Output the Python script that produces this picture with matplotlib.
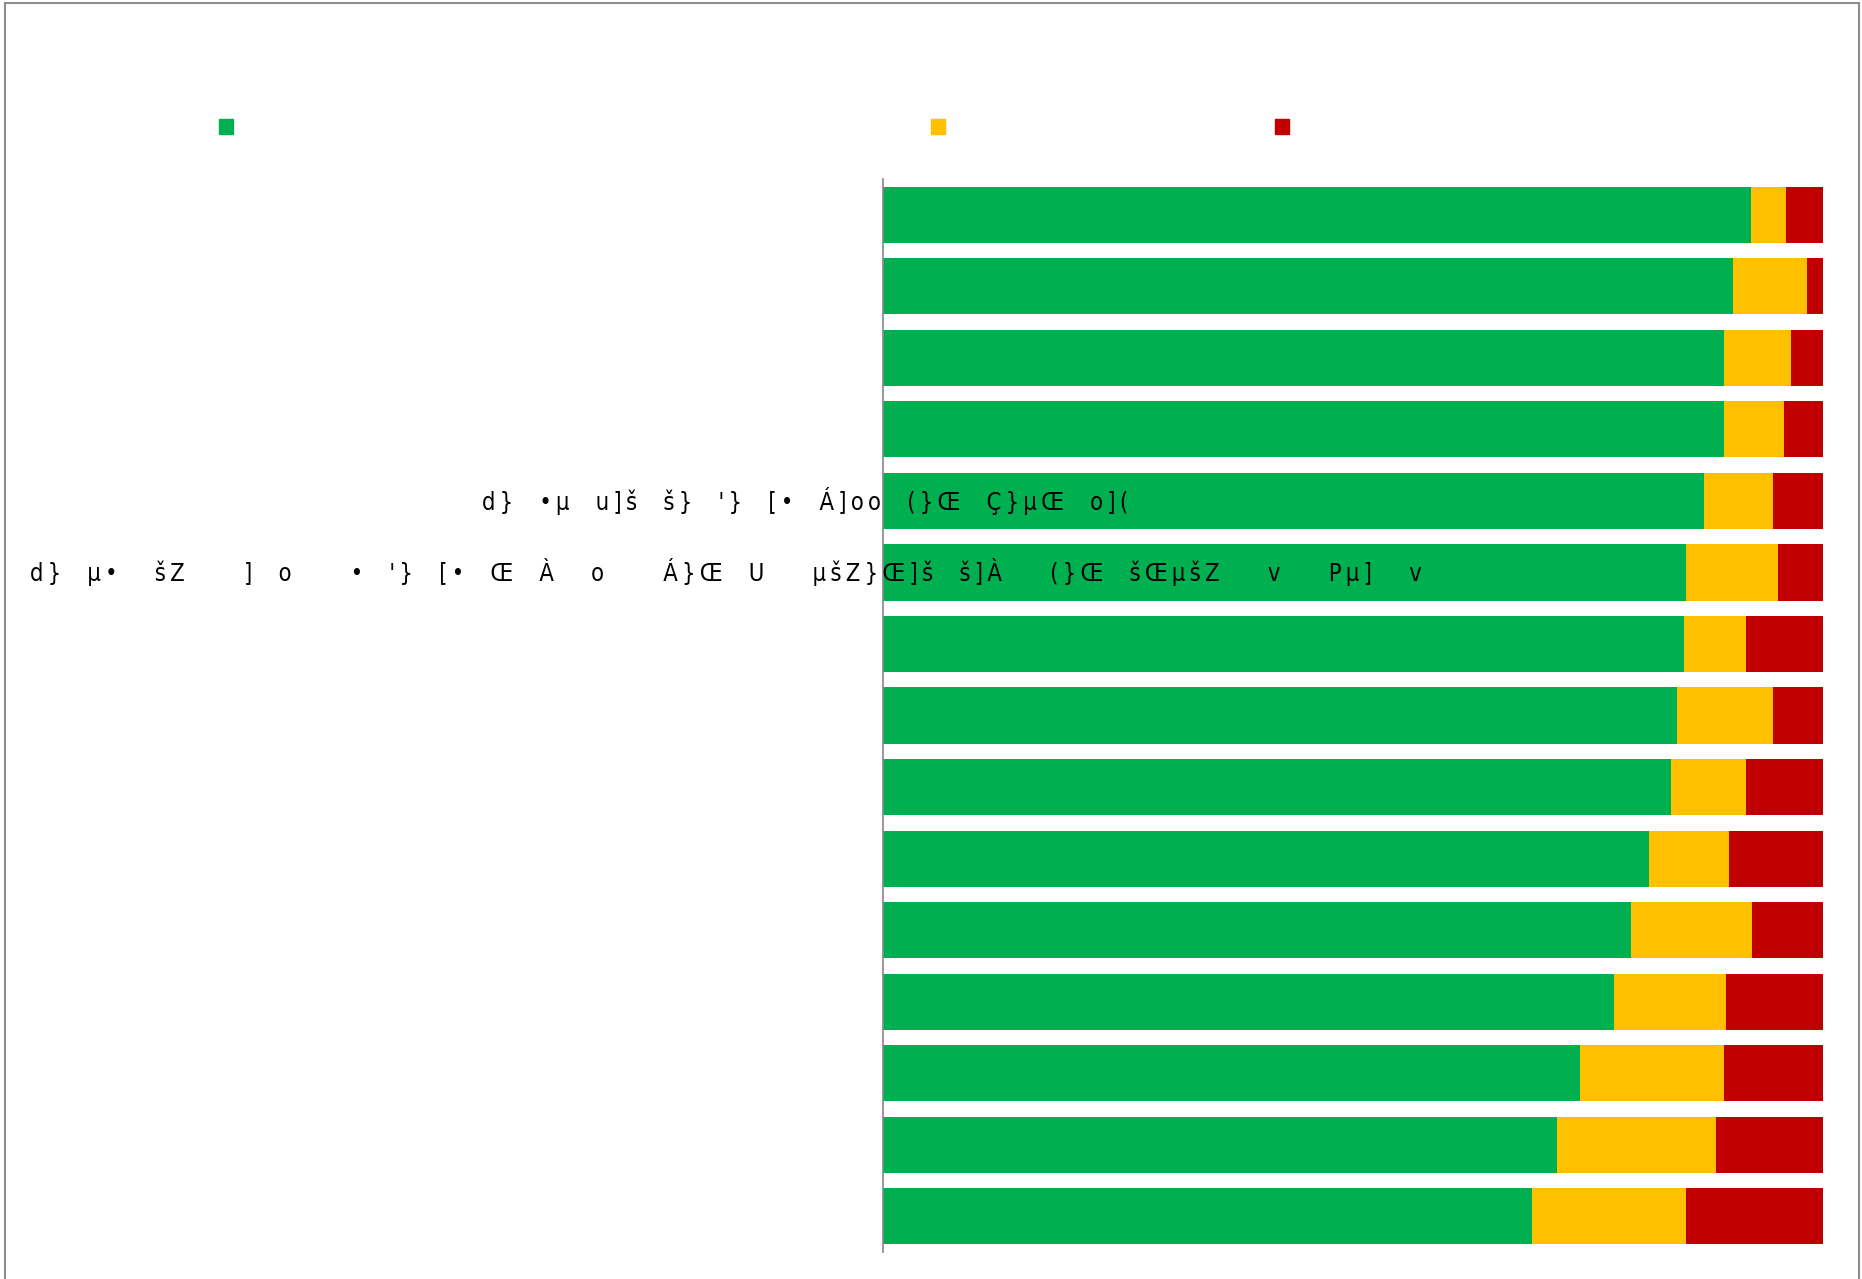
import numpy as np
import matplotlib.pyplot as plt
from matplotlib.patches import Rectangle
from matplotlib.transforms import blended_transform_factory

# row labels (only two survived in the source, the rest render empty)
labels = ["", "", "", "",
          "d}  •µ  u]š  š}  '}  [•  Á]oo  (}Œ  Ç}µŒ  o](",
          "d}  µ•   šZ     ]  o     •  '}  [•  Œ  À   o     Á}Œ  U    µšZ}Œ]š  š]À    (}Œ  šŒµšZ    v    Pµ]   v",
          "", "", "", "", "", "", "", "", ""]

# shares in percent, top row first
green = [92.3, 90.4, 89.4, 89.4, 87.3, 85.4, 85.2, 84.4, 83.8, 81.5, 79.6, 77.8, 74.1, 71.7, 69.0]
yellow = [3.7, 7.9, 7.2, 6.4, 7.4, 9.8, 6.6, 10.3, 8.0, 8.5, 12.8, 11.9, 15.3, 16.9, 16.4]
red = [4.0, 1.7, 3.4, 4.2, 5.3, 4.8, 8.2, 5.3, 8.2, 10.0, 7.6, 10.3, 10.6, 11.4, 14.6]

colors = ["#00B050", "#FFC000", "#C00000"]


def plot_stacked():
    fig = plt.figure(figsize=(18.62, 12.79), dpi=100)
    ax = fig.add_axes([0.474, 0.0211, 0.5052, 0.8389])

    y = np.arange(len(green))
    left = np.zeros(len(green))
    for vals, c in zip([green, yellow, red], colors):
        ax.barh(y, vals, left=left, height=0.785, color=c, edgecolor="none")
        left += np.array(vals)

    ax.set_xlim(0, 100)
    ax.set_ylim(len(green) - 0.5, -0.5)
    ax.set_xticks([])
    ax.set_yticks([])
    for s in ["top", "right", "bottom"]:
        ax.spines[s].set_visible(False)
    ax.spines["left"].set_color("#868686")
    ax.spines["left"].set_linewidth(1.2)

    # labels sit where the broken font put them, glyphs spread out
    trans = blended_transform_factory(fig.transFigure, ax.transData)
    xpos = {4: 0.259, 5: 0.016}
    for i, lab in enumerate(labels):
        if lab:
            ax.text(xpos[i], i, "\u2009".join(lab), transform=trans, ha="left",
                    va="center", fontsize=17, fontstretch="condensed",
                    color="black", clip_on=False, family="DejaVu Sans")

    # legend keys without text
    for xk, c in zip([0.1215, 0.5035, 0.6885], colors):
        fig.patches.append(Rectangle((xk - 0.0037, 0.8953), 0.0075, 0.0117,
                                     transform=fig.transFigure, color=c))

    fig.patches.append(Rectangle((0.0027, -0.01), 0.9958, 1.0077,
                                 transform=fig.transFigure, fill=False,
                                 edgecolor="#8c8c8c", linewidth=1.5))

    plt.savefig("out.png", dpi=100)


if __name__ == "__main__":
    plot_stacked()
